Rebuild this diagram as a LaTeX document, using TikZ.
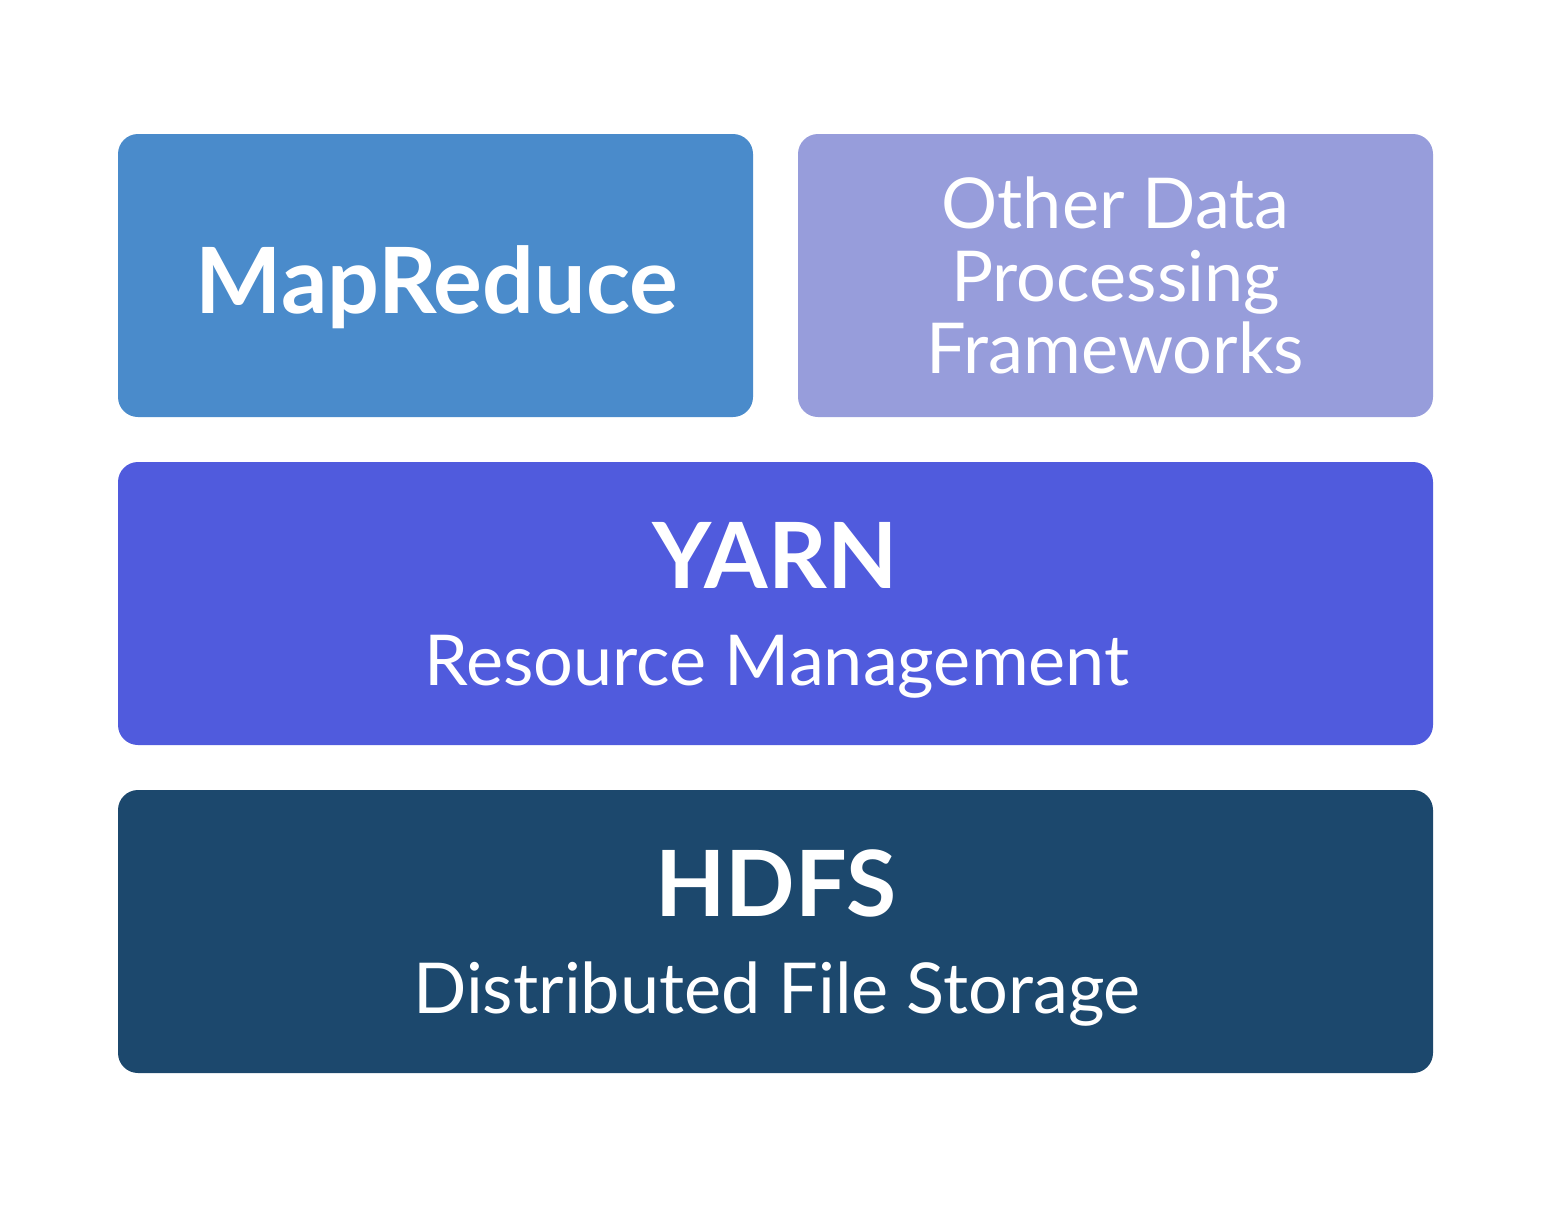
\documentclass[tikz,border=0pt]{standalone}
\usepackage{fontspec}
\setmainfont{Lato}
\definecolor{mapblue}{HTML}{4A8BCB}
\definecolor{otherlilac}{HTML}{979DDB}
\definecolor{yarnblue}{HTML}{505BDD}
\definecolor{hdfsnavy}{HTML}{1C486D}

\begin{document}
\begin{tikzpicture}[x=0.5pt,y=-0.5pt,
  layer/.style={rounded corners=10pt, inner sep=0pt, minimum height=141.5pt},
  small/.style={layer, minimum width=317.5pt},
  wide/.style={layer, minimum width=657.5pt},
  title/.style={text=white, inner sep=0pt, font=\fontsize{45.7}{48}\selectfont\bfseries},
  subtitle/.style={text=white, inner sep=0pt, font=\fontsize{35.1}{36.25}\selectfont}]
  \useasboundingbox (0,0) rectangle (1552,1206);

  % Layers
  \node[small, fill=mapblue] (mapreduce) at (435.5,275.5) {};
  \node[small, fill=otherlilac] (other) at (1115.5,275.5) {};
  \node[wide, fill=yarnblue] (yarn) at (775.5,603.5) {};
  \node[wide, fill=hdfsnavy] (hdfs) at (775.5,931.5) {};

  % Texts
  \node[title, anchor=base] (mapreducetext) at (437,313) {MapReduce};
  \node[subtitle, align=center] (othertext) at (other.center) {Other Data\\Processing\\Frameworks};
  \node[title, anchor=base] (yarntext) at (775,588) {YARN};
  \node[subtitle, anchor=base] (yarnsub) at (777,685) {Resource Management};
  \node[title, anchor=base] (hdfstext) at (776,916) {HDFS};
  \node[subtitle, anchor=base] (hdfssub) at (777,1013) {Distributed File Storage};
\end{tikzpicture}
\end{document}
